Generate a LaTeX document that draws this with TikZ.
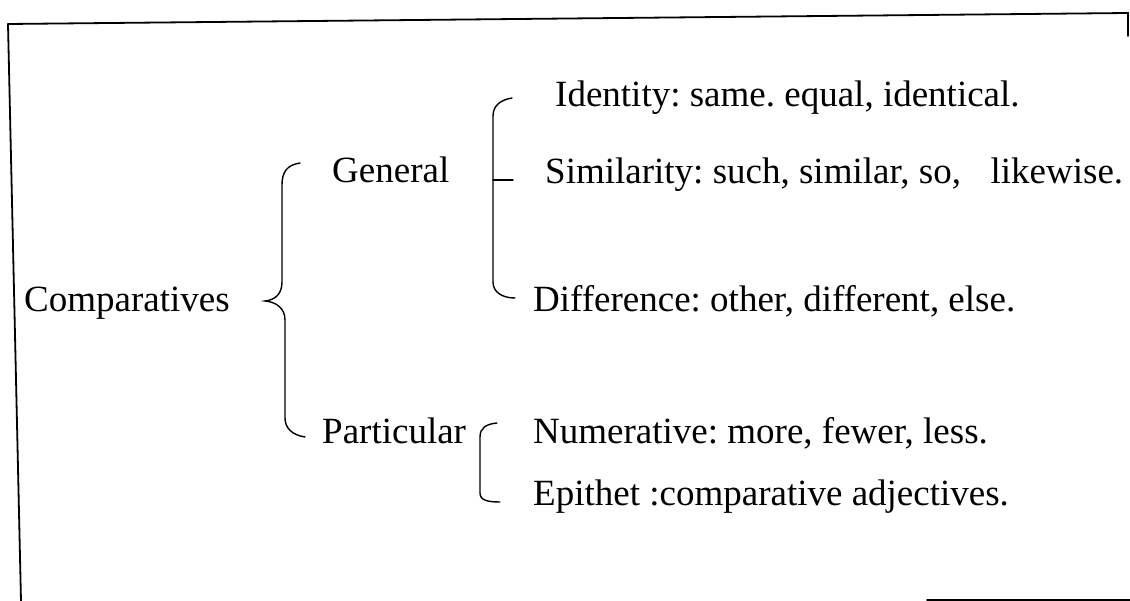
\documentclass[tikz,border=0pt]{standalone}
\usepackage{fontspec}
\setmainfont{Liberation Serif}
\frenchspacing
\begin{document}
\begin{tikzpicture}[x=1pt,y=-1pt,line cap=round,
  txt/.style={anchor=base west,inner sep=0pt,font=\fontsize{37}{44}\selectfont},
  br/.style={line width=1.4pt},
  frame/.style={line width=1.8pt}]
\useasboundingbox (0,0) rectangle (1130,601);
% frame fragments
\coordinate (ftl) at (8,24);
\coordinate (ftr) at (1128,13);
\coordinate (frb) at (1128,36);
\coordinate (flb) at (21,601);
\coordinate (fb1) at (927,600);
\coordinate (fb2) at (1130,600);
\draw[frame] (ftl) -- (ftr) -- (frb);
\draw[frame] (ftl) -- (flb);
\draw[frame] (fb1) -- (fb2);
% texts
\node[txt] (comp) at (24,312) {Comparatives};
\node[txt] (gen) at (332,183) {General};
\node[txt] (part) at (322,443) {Particular};
\node[txt] (ident) at (555,107) {Identity: same. equal, identical.};
\node[txt] (sim) at (545,184) {Similarity: such, similar, so,\hspace{0.8em}likewise.};
\node[txt] (diff) at (533,312) {Difference: other, different, else.};
\node[txt] (num) at (533,443) {Numerative: more, fewer, less.};
\node[txt] (epi) at (533,505) {Epithet :comparative adjectives.};
% main brace
\coordinate (b1top) at (300,163);
\coordinate (b1tip) at (265,301);
\coordinate (b1bot) at (305,437);
\draw[br] (b1top) .. controls (287,165) and (282,172) .. (282,185) -- (282,282)
  .. controls (282,294) and (275,300) .. (b1tip)
  .. controls (276,302) and (285,308) .. (285,320) -- (285,418)
  .. controls (285,428) and (292,435) .. (b1bot);
% general bracket
\coordinate (b2top) at (512,98);
\coordinate (b2bot) at (515,298);
\coordinate (b2mid) at (493,180);
\coordinate (b2tick) at (513,180);
\draw[br] (b2top) .. controls (500,100) and (493,106) .. (493,116) -- (493,282)
  .. controls (493,292) and (502,298) .. (b2bot);
\draw[br] (b2mid) -- (b2tick);
% particular bracket
\coordinate (b3top) at (497,423);
\coordinate (b3bot) at (500,502);
\draw[br] (b3top) .. controls (486,424) and (480,428) .. (480,437) -- (480,493)
  .. controls (480,500) and (487,502) .. (b3bot);
\end{tikzpicture}
\end{document}
